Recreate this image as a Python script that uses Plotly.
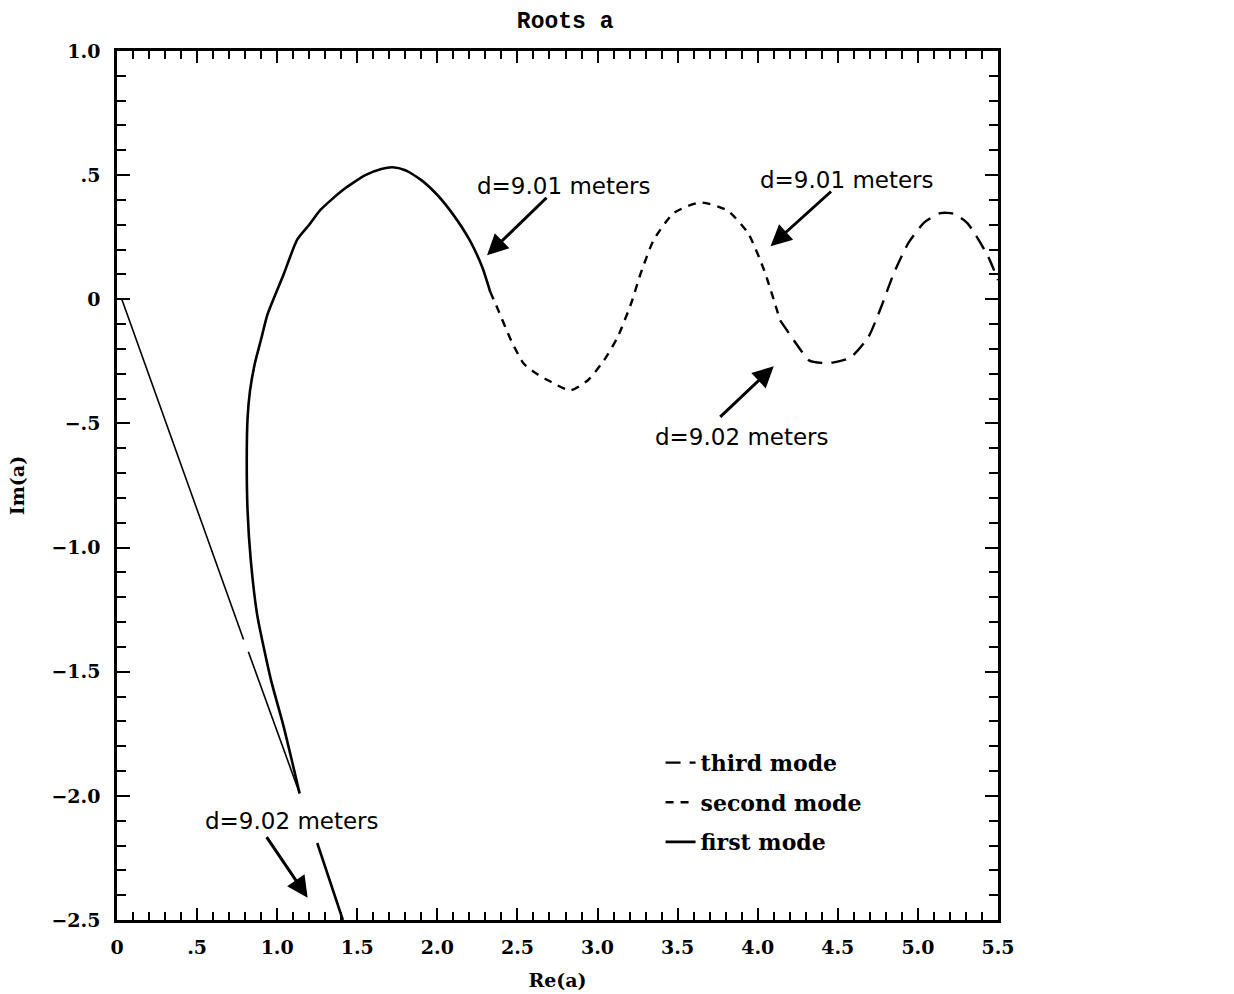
import plotly.graph_objects as go

# ---------------- data ----------------
first_re = [1.41, 1.25, None, 1.14, 1.04, 0.96, 0.875, 0.835, 0.815, 0.81, 0.815, 0.83, 0.86,
            0.90, 0.94, 1.04, 1.125, 1.20, 1.27, 1.41, 1.55, 1.65, 1.72, 1.80, 1.90, 2.00,
            2.10, 2.20, 2.28, 2.33]
first_im = [-2.5, -2.19, None, -1.99, -1.72, -1.53, -1.27, -1.05, -0.85, -0.65, -0.48, -0.37,
            -0.26, -0.16, -0.06, 0.10, 0.24, 0.30, 0.36, 0.44, 0.50, 0.525, 0.532, 0.52, 0.48,
            0.42, 0.34, 0.24, 0.13, 0.03]

branch_re = [0.03, 0.79, None, 0.82, 1.14]
branch_im = [0.0, -1.37, None, -1.42, -1.99]

second_re = [2.33, 2.375, 2.46, 2.54, 2.62, 2.69, 2.83, 2.94, 3.04, 3.125, 3.21, 3.27, 3.35,
             3.475, 3.64, 3.81, 3.94, 4.04, 4.14]
second_im = [0.03, -0.036, -0.165, -0.26, -0.30, -0.326, -0.367, -0.326, -0.246, -0.153,
             -0.016, 0.105, 0.238, 0.347, 0.39, 0.358, 0.266, 0.117, -0.085]

third_re = [4.14, 4.27, 4.32, 4.40, 4.475, 4.58, 4.69, 4.77, 4.85, 4.94, 5.04, 5.14, 5.22,
            5.31, 5.44, 5.5]
third_im = [-0.085, -0.206, -0.246, -0.256, -0.254, -0.234, -0.153, -0.032, 0.105, 0.226,
            0.31, 0.347, 0.345, 0.306, 0.17, 0.077]

x_tickvals = [0, 0.5, 1.0, 1.5, 2.0, 2.5, 3.0, 3.5, 4.0, 4.5, 5.0, 5.5]
x_ticktext = ["0", ".5", "1.0", "1.5", "2.0", "2.5", "3.0", "3.5", "4.0", "4.5", "5.0", "5.5"]
y_tickvals = [1.0, 0.5, 0, -0.5, -1.0, -1.5, -2.0, -2.5]
y_ticktext = ["1.0", ".5", "0", "\u2212.5", "\u22121.0", "\u22121.5", "\u22122.0", "\u22122.5"]

# label text, label position (Re, Im), arrow tip (Re, Im), arrow tail offset in px
labels = [
    ("d=9.01 meters", 2.79, 0.456, 2.31, 0.177, 61, -59),
    ("d=9.01 meters", 4.556, 0.48, 4.08, 0.214, 62, -56),
    ("d=9.01 meters", 6.29, 0.508, 5.82, 0.246, 59, -55),
    ("d=9.02 meters", 3.90, -0.556, 4.10, -0.27, -55, 52),
    ("d=9.02 meters", 1.094, -2.10, 1.19, -2.41, -42, -62),
]

# ---------------- figure ----------------
fig = go.Figure()
fig.add_trace(go.Scatter(x=third_re, y=third_im, mode="lines", name="third mode",
                         legendgroup="g3",
                         line=dict(color="black", width=2.4, dash="15px,9px",
                                   shape="spline", smoothing=0.6)))
fig.add_trace(go.Scatter(x=second_re, y=second_im, mode="lines", name="second mode",
                         legendgroup="g2",
                         line=dict(color="black", width=2.4, dash="8px,7px",
                                   shape="spline", smoothing=0.6)))
fig.add_trace(go.Scatter(x=first_re, y=first_im, mode="lines", name="first mode",
                         legendgroup="g1",
                         line=dict(color="black", width=2.6, shape="spline", smoothing=0.6)))
fig.add_trace(go.Scatter(x=branch_re, y=branch_im, mode="lines", name="first mode",
                         legendgroup="g1", showlegend=False,
                         line=dict(color="black", width=1.6)))

ann_font = dict(family="DejaVu Sans", size=23, color="black")
for text, lx, ly, tx, ty, axp, ayp in labels:
    fig.add_annotation(x=lx, y=ly, xref="x", yref="y", text=text, showarrow=False,
                       font=ann_font, xanchor="center", yanchor="middle")
    fig.add_annotation(x=tx, y=ty, xref="x", yref="y", text="", showarrow=True,
                       ax=axp, ay=ayp, arrowhead=2, arrowsize=1.4, arrowwidth=3,
                       arrowcolor="black")

tick_font = dict(family="DejaVu Serif", size=19, color="black", weight="bold")
title_font = dict(family="DejaVu Serif", size=19, color="black", weight="bold")
fig.update_xaxes(range=[0, 5.5], tickvals=x_tickvals, ticktext=x_ticktext,
                 ticks="inside", ticklen=12, tickwidth=2, tickcolor="black",
                 ticklabelstandoff=8, automargin=False,
                 minor=dict(dtick=0.1, ticks="inside", ticklen=8, tickwidth=1.6,
                            tickcolor="black"),
                 showline=True, linewidth=2.6, linecolor="black", mirror="allticks",
                 showgrid=False, zeroline=False, tickfont=tick_font,
                 title=dict(text="Re(a)", standoff=18, font=title_font))
fig.update_yaxes(range=[-2.5, 1.0], tickvals=y_tickvals, ticktext=y_ticktext,
                 ticks="inside", ticklen=13, tickwidth=2, tickcolor="black",
                 ticklabelstandoff=10, automargin=False,
                 minor=dict(dtick=0.1, ticks="inside", ticklen=9, tickwidth=1.6,
                            tickcolor="black"),
                 showline=True, linewidth=2.6, linecolor="black", mirror="allticks",
                 showgrid=False, zeroline=False, tickfont=tick_font,
                 title=dict(text="Im(a)", standoff=22, font=title_font))

fig.update_layout(
    width=1234, height=994,
    margin=dict(l=117, r=236, t=51, b=74, autoexpand=False),
    plot_bgcolor="white", paper_bgcolor="white",
    title=dict(text="Roots a", x=0.458, xanchor="center", y=0.98, yanchor="middle",
               yref="container",
               font=dict(family="Liberation Mono", size=23, color="black", weight="bold")),
    legend=dict(x=0.617, y=0.205, xanchor="left", yanchor="top",
                traceorder="grouped", tracegroupgap=8,
                bgcolor="rgba(0,0,0,0)",
                font=dict(family="DejaVu Serif", size=22, color="black", weight="bold")),
)

fig.write_html("out.html")
